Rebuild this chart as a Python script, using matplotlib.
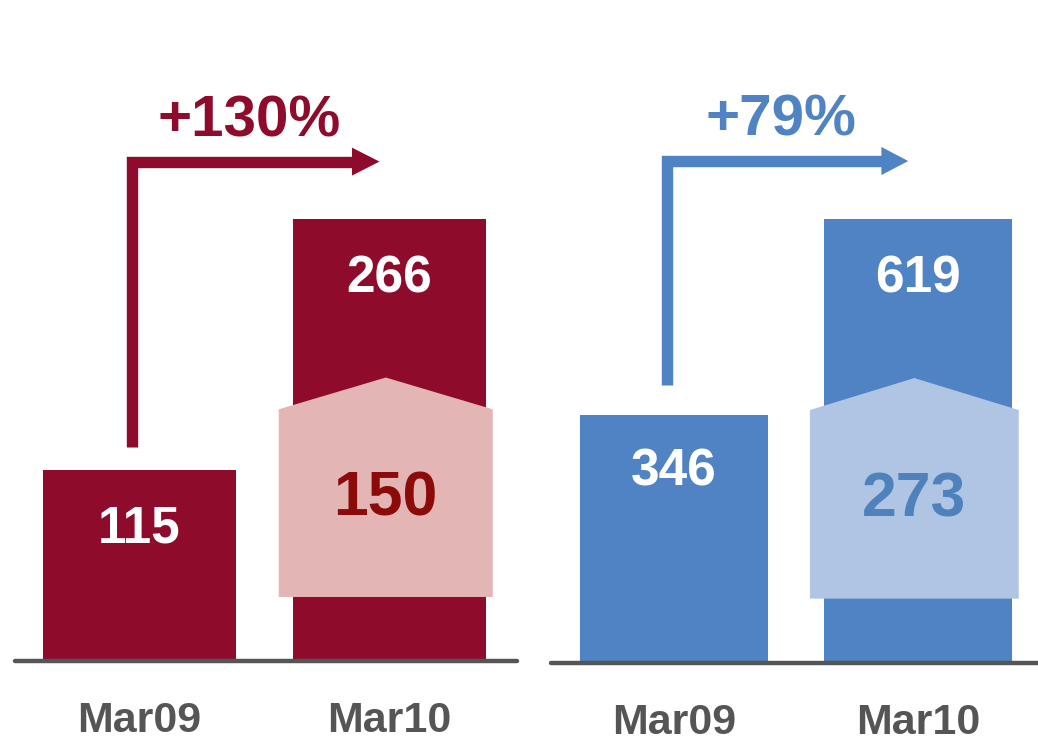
#!/usr/bin/env python

"""
Two-panel bar comparison, Mar09 vs Mar10, with a growth arrow
and an overlay highlighting the new component of the Mar10 bar.
"""

import matplotlib
matplotlib.use('Agg')
import matplotlib.pyplot as plt
from matplotlib.patches import Polygon

plt.rcParams.update({'font.family': ['Liberation Sans', 'DejaVu Sans'],
                     'font.weight': 'bold'})

# data
periods = ['Mar09', 'Mar10']
red_values = [115, 266]
red_new = 150
red_growth = '+130%'
blue_values = [346, 619]
blue_new = 273
blue_growth = '+79%'

W, H = 1038, 748


def draw_panel(ax, values, new_value, growth, dark, light, new_color):
    x = [0, 1]
    width = 0.77
    ax.bar(x, values, width=width, color=dark, zorder=2)
    ax.axhline(0, color='#555555', lw=3.2, zorder=3, solid_capstyle='round',
               clip_on=False)

    # overlay pentagon on the Mar10 bar showing the new part
    v10 = values[1]
    cx = 0.985
    hw = 0.428
    bot, shoulder, apex = 0.145 * v10, 0.57 * v10, 0.642 * v10
    pent = Polygon([(cx - hw, bot), (cx + hw, bot), (cx + hw, shoulder),
                    (cx, apex), (cx - hw, shoulder)],
                   closed=True, facecolor=light, edgecolor='none', zorder=4)
    ax.add_patch(pent)
    ax.text(cx, (bot + shoulder) / 2 + 0.01 * v10, f'{new_value}', color=new_color,
            fontsize=45, ha='center', va='center', zorder=5)

    # value labels on the bars
    ax.text(0, values[0] * (0.69 if values[0] < 200 else 0.77), f'{values[0]}',
            color='white', fontsize=37, ha='center', va='center', zorder=5)
    ax.text(1, v10 * 0.865, f'{v10}', color='white', fontsize=37,
            ha='center', va='center', zorder=5)

    # growth arrow
    level = 1.131 * v10
    start = 1.12 * values[0]
    ax.plot([-0.03, -0.03, 0.86], [start, level, level], color=dark, lw=8.2,
            solid_joinstyle='miter', solid_capstyle='butt', zorder=3)
    hh = 0.028 * level
    head = Polygon([(0.85, level - hh), (0.96, level), (0.85, level + hh)],
                   closed=True, facecolor=dark, edgecolor='none', zorder=3)
    ax.add_patch(head)
    ax.text(0.44, 1.222 * v10, growth, color=dark, fontsize=42,
            ha='center', va='center')

    ax.set_xticks(x)
    ax.set_xticklabels(periods, fontsize=31, color='#555555')
    ax.tick_params(axis='x', length=0, pad=29)
    ax.set_yticks([])
    for s in ax.spines.values():
        s.set_visible(False)
    ax.patch.set_alpha(0)


fig = plt.figure(figsize=(W / 100, H / 100), dpi=100)

# left panel: baseline at y=661 px, 1.66 px per unit
ax1 = fig.add_axes([15 / W, 1 - 661 / H, (517 - 15) / W, 661 / H])
ax1.set_xlim((15 - 139.5) / 250, (517 - 139.5) / 250)
ax1.set_ylim(0, 661 / 1.66)
draw_panel(ax1, red_values, red_new, red_growth,
           '#8E0B2C', '#E4B5B5', '#8B0A0A')

# right panel: baseline at y=663 px, 0.717 px per unit
ax2 = fig.add_axes([551 / W, 1 - 663 / H, (1038 - 551) / W, 663 / H])
ax2.set_xlim((551 - 674) / 244, (1038 - 674) / 244)
ax2.set_ylim(0, 663 / 0.717)
draw_panel(ax2, blue_values, blue_new, blue_growth,
           '#5083C4', '#AFC5E3', '#4F81BD')

fig.savefig('out.png', dpi=100)
